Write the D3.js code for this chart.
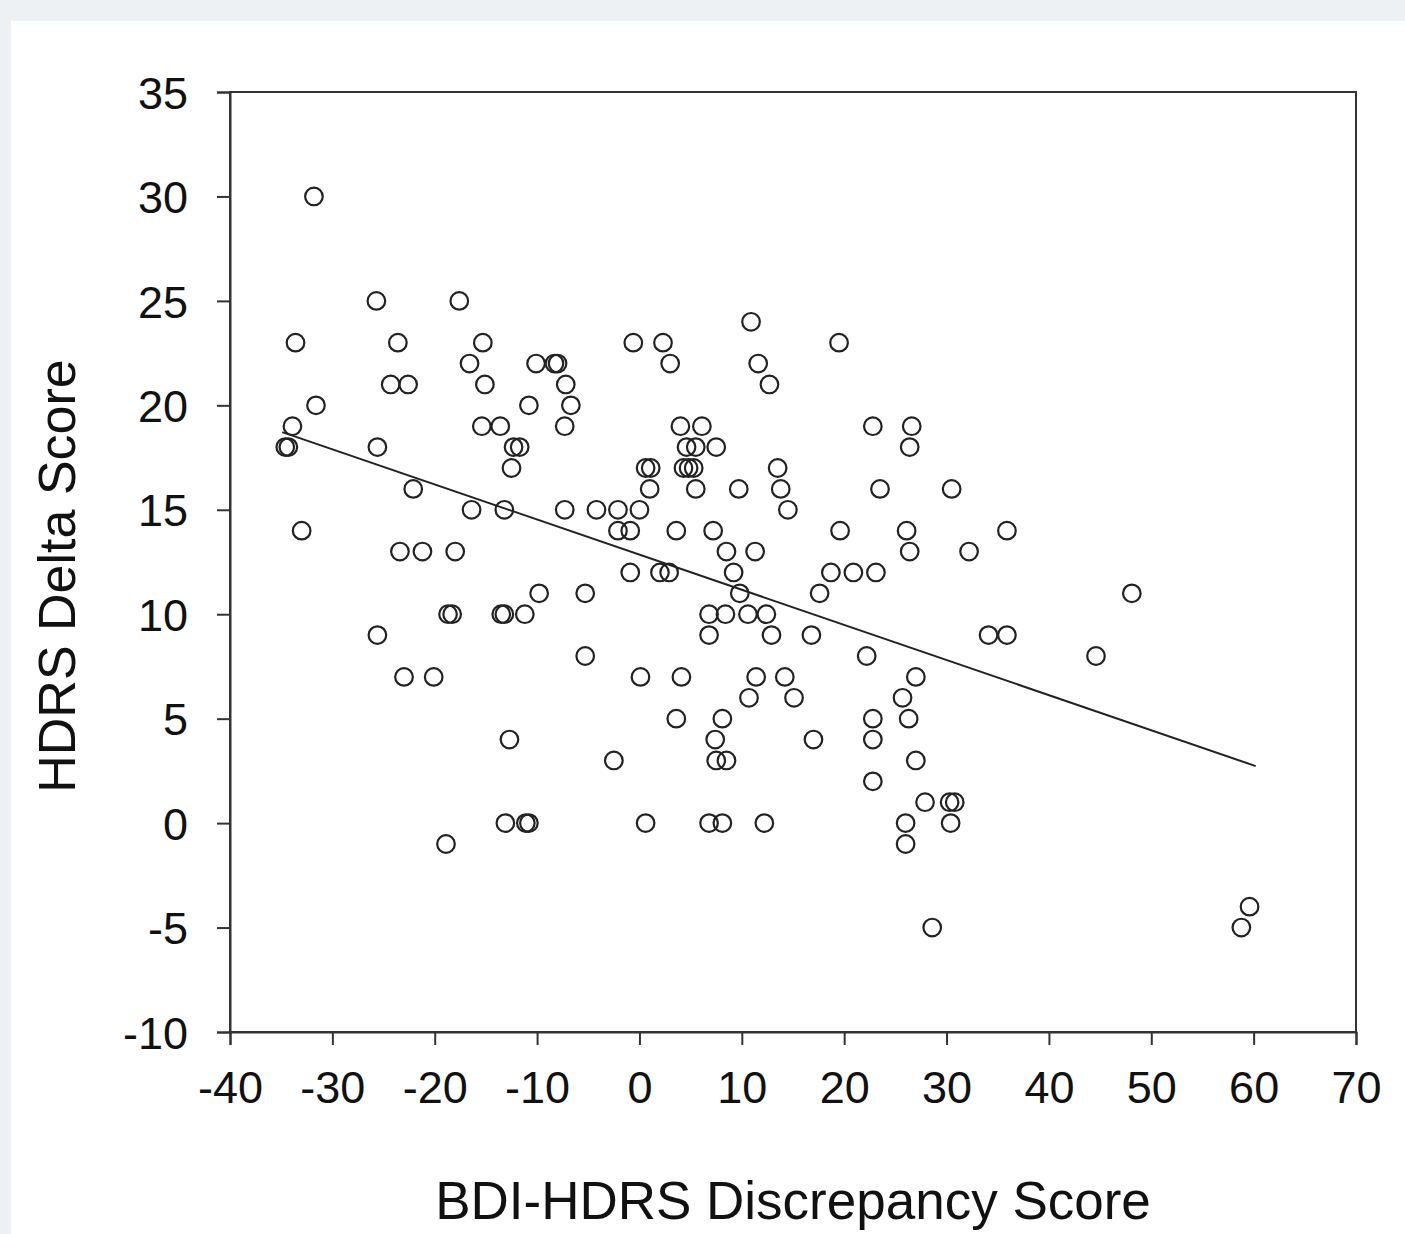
<!DOCTYPE html>
<html>
<head>
<meta charset="utf-8">
<script src="https://cdn.jsdelivr.net/npm/d3@7"></script>
<style>
  html, body { margin: 0; padding: 0; background: #edf1f4; }
  #chart { position: absolute; left: 11px; top: 21px; width: 1394px; height: 1213px; background: #fff; }
  svg text { font-family: "Liberation Sans", Arial, sans-serif; fill: #111; }
</style>
</head>
<body>
<div id="chart"></div>
<script>
// data: BDI-HDRS discrepancy (x) vs HDRS delta (y)
const discrepancy = [
  -31.8,
  -25.7, -17.6,
  10.9,
  -33.6, -23.6, -15.3, -0.6, 2.3, 19.5,
  -16.6, -10.1, -8.3, -8.0, 3.0, 11.6,
  -24.3, -22.6, -15.1, -7.2, 12.7,
  -31.6, -10.8, -6.7,
  -33.9, -15.4, -13.6, -7.3, 4.0, 6.1, 22.8, 26.6,
  -34.6, -34.3, -25.6, -12.3, -11.7, 4.6, 5.5, 7.5, 26.4,
  -12.5, 0.6, 1.1, 4.3, 4.8, 5.3, 13.5,
  -22.1, 1.0, 5.5, 9.7, 13.8, 23.5, 30.5,
  -16.4, -13.2, -7.3, -4.2, -2.1, 0.0, 14.5,
  -33.0, -2.1, -0.9, 3.6, 7.2, 19.6, 26.1, 35.9,
  -23.4, -21.2, -18.0, 8.5, 11.3, 26.4, 32.2,
  -0.9, 2.0, 2.9, 9.2, 18.7, 20.9, 23.1,
  -9.8, -5.3, 9.8, 17.6, 48.1,
  -18.7, -18.3, -13.5, -13.2, -11.2, 6.8, 8.4, 10.6, 12.4,
  -25.6, 6.8, 12.9, 16.8, 34.1, 35.9,
  -5.3, 22.2, 44.6,
  -23.0, -20.1, 0.1, 4.1, 11.4, 14.2, 27.0,
  10.7, 15.1, 25.7,
  3.6, 8.1, 22.8, 26.3,
  -12.7, 7.4, 17.0, 22.8,
  -2.5, 7.5, 8.5, 27.0,
  22.8,
  27.9, 30.3, 30.8,
  -13.1, -11.1, -10.8, 0.6, 6.8, 8.1, 12.2, 26.0, 30.4,
  -18.9, 26.0,
  59.6,
  28.6, 58.8
];
const hdrsDelta = [
  30,
  25, 25,
  24,
  23, 23, 23, 23, 23, 23,
  22, 22, 22, 22, 22, 22,
  21, 21, 21, 21, 21,
  20, 20, 20,
  19, 19, 19, 19, 19, 19, 19, 19,
  18, 18, 18, 18, 18, 18, 18, 18, 18,
  17, 17, 17, 17, 17, 17, 17,
  16, 16, 16, 16, 16, 16, 16,
  15, 15, 15, 15, 15, 15, 15,
  14, 14, 14, 14, 14, 14, 14, 14,
  13, 13, 13, 13, 13, 13, 13,
  12, 12, 12, 12, 12, 12, 12,
  11, 11, 11, 11, 11,
  10, 10, 10, 10, 10, 10, 10, 10, 10,
  9, 9, 9, 9, 9, 9,
  8, 8, 8,
  7, 7, 7, 7, 7, 7, 7,
  6, 6, 6,
  5, 5, 5, 5,
  4, 4, 4, 4,
  3, 3, 3, 3,
  2,
  1, 1, 1,
  0, 0, 0, 0, 0, 0, 0, 0, 0,
  -1, -1,
  -4,
  -5, -5
];
// fitted regression line end points
const fitX = [-34.9, 60.2];
const fitY = [18.72, 2.73];

const xTicks = [-40, -30, -20, -10, 0, 10, 20, 30, 40, 50, 60, 70];
const yTicks = [-10, -5, 0, 5, 10, 15, 20, 25, 30, 35];

const width = 1394;
const height = 1213;
const margin = {top: 71, right: 49, bottom: 202, left: 219};
const graphWidth = width - margin.left - margin.right;
const graphHeight = height - margin.top - margin.bottom;

const points = discrepancy.map((d, i) => ({x: d, y: hdrsDelta[i]}));
const fit = fitX.map((d, i) => ({x: d, y: fitY[i]}));

const xScale = d3.scaleLinear().domain([-40, 70]).range([0, graphWidth]);
const yScale = d3.scaleLinear().domain([-10, 35]).range([graphHeight, 0]);

const svg = d3.select('#chart')
  .append('svg')
  .attr('width', width)
  .attr('height', height);

const graph = svg.append('g')
  .attr('transform', `translate(${margin.left}, ${margin.top})`);

// frame
graph.append('rect')
  .attr('x', 0).attr('y', 0)
  .attr('width', graphWidth).attr('height', graphHeight)
  .attr('fill', 'none')
  .attr('stroke', '#333')
  .attr('stroke-width', 2);

const xAxis = d3.axisBottom(xScale).tickValues(xTicks).tickSize(13).tickPadding(26).tickFormat(d => d);
const yAxis = d3.axisLeft(yScale).tickValues(yTicks).tickSize(13).tickPadding(29).tickFormat(d => d);

const gx = graph.append('g')
  .attr('transform', `translate(0, ${graphHeight})`)
  .call(xAxis);
const gy = graph.append('g').call(yAxis);

[gx, gy].forEach(g => {
  g.select('.domain').attr('stroke', '#333').attr('stroke-width', 2);
  g.selectAll('.tick line').attr('stroke', '#333').attr('stroke-width', 2);
  g.selectAll('.tick text').attr('font-size', 45).attr('fill', '#111')
    .style('font-family', '"Liberation Sans", Arial, sans-serif');
});
gy.selectAll('.tick text').attr('dy', '0.36em');

// regression line
graph.append('path')
  .datum(fit)
  .attr('fill', 'none')
  .attr('stroke', '#222')
  .attr('stroke-width', 2)
  .attr('d', d3.line().x(d => xScale(d.x)).y(d => yScale(d.y)));

// points
graph.selectAll('circle')
  .data(points)
  .enter()
  .append('circle')
  .attr('cx', d => xScale(d.x))
  .attr('cy', d => yScale(d.y))
  .attr('r', 8.8)
  .attr('fill', 'none')
  .attr('stroke', '#222')
  .attr('stroke-width', 2.2);

// axis titles
svg.append('text')
  .attr('x', margin.left + graphWidth / 2)
  .attr('y', 1198)
  .attr('text-anchor', 'middle')
  .attr('font-size', 53)
  .text('BDI-HDRS Discrepancy Score');

svg.append('text')
  .attr('transform', `translate(64, 555) rotate(-90)`)
  .attr('text-anchor', 'middle')
  .attr('font-size', 52)
  .text('HDRS Delta Score');
</script>
</body>
</html>
